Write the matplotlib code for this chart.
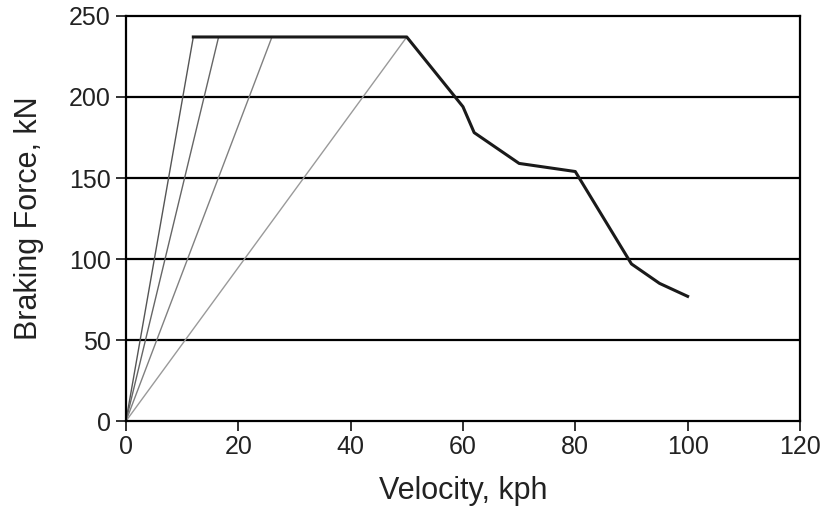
import matplotlib
matplotlib.use("Agg")
import matplotlib.pyplot as plt

plt.rcParams['font.family'] = ['Liberation Sans', 'DejaVu Sans']

# Braking force envelope (kN) vs velocity (kph)
velocity = [12, 50, 60, 62, 70, 80, 90, 95, 100]
force = [237, 237, 194, 178, 159, 154, 97, 85, 77]

# Adhesion-limited ramps from the origin up to the plateau
ramp_end_velocity = [12, 16.5, 26, 50]
ramp_force = 237
ramp_colors = ['#555555', '#666666', '#808080', '#9a9a9a']

x_ticks = [0, 20, 40, 60, 80, 100, 120]
y_ticks = [0, 50, 100, 150, 200, 250]

fig = plt.figure(figsize=(8.23, 5.13), dpi=100)
ax = fig.add_axes([0.153, 0.179, 0.819, 0.790])

for y in y_ticks[1:-1]:
    ax.axhline(y, color='black', lw=1.6, zorder=1)

for v_end, c in zip(ramp_end_velocity, ramp_colors):
    ax.plot([0, v_end], [0, ramp_force], color=c, lw=1.0, zorder=2)

ax.plot(velocity, force, color='#1a1a1a', lw=2.2, zorder=3)

ax.set_xlim(0, 120)
ax.set_ylim(0, 250)
ax.set_xticks(x_ticks)
ax.set_yticks(y_ticks)
ax.tick_params(axis='both', labelsize=18, colors='#222222', length=7, width=1.3,
               direction='out', pad=3)
ax.tick_params(axis='y', pad=4)
for s in ax.spines.values():
    s.set_linewidth(1.6)
    s.set_color('black')

ax.set_xlabel('Velocity, kph', fontsize=22, color='#222222', labelpad=12)
ax.set_ylabel('Braking Force, kN', fontsize=22, color='#222222', labelpad=18)

fig.savefig('out.png', dpi=100)
